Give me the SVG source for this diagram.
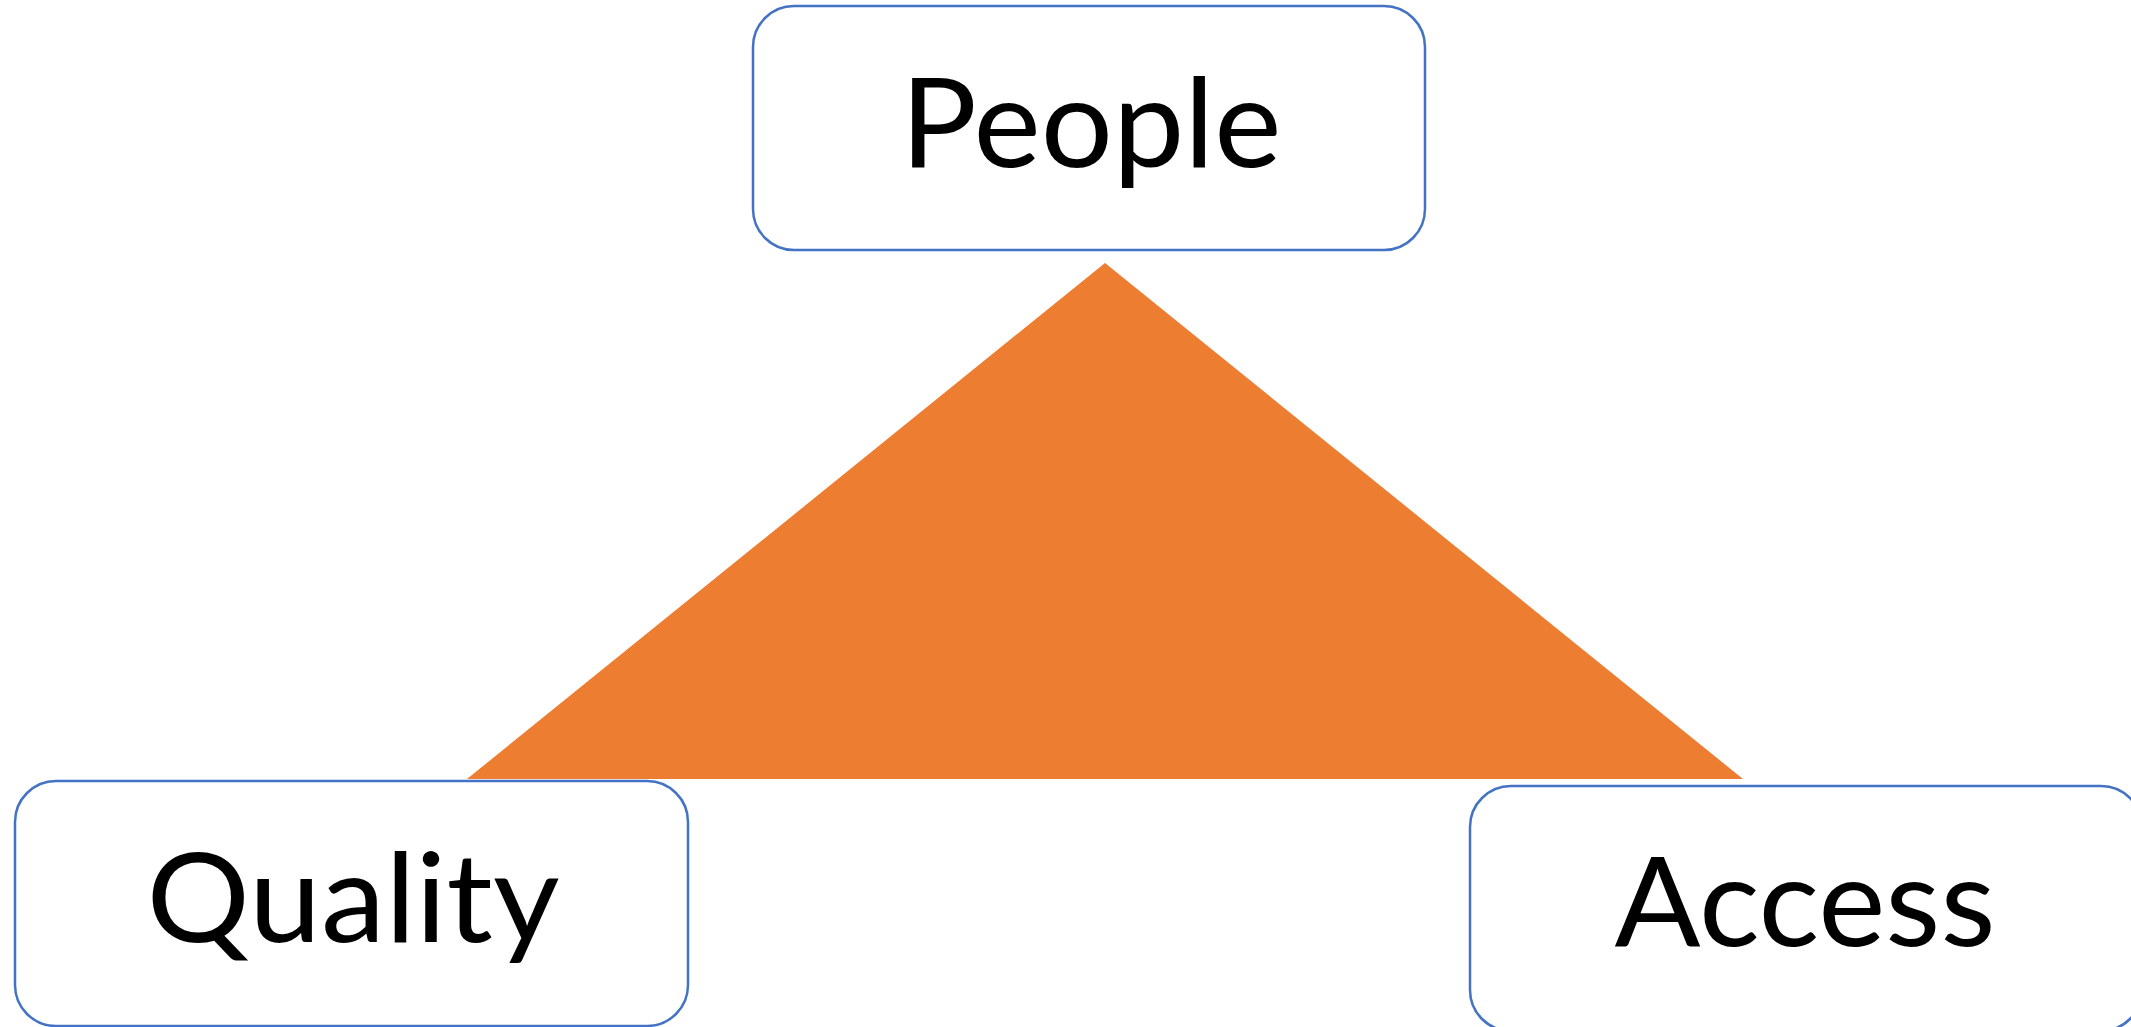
<svg xmlns="http://www.w3.org/2000/svg" width="2131" height="1027" viewBox="0 0 2131 1027">
  <style>
    .box { fill: #FFFFFF; stroke: #4472C4; stroke-width: 2.5; }
    .label { font-family: Lato, "Liberation Sans", Arial, sans-serif; font-size: 125px; fill: #000000; text-anchor: middle; }
    .tri { fill: #ED7D31; stroke: none; }
  </style>
  <rect width="2131" height="1027" fill="#FFFFFF"/>
  <g id="triangle">
    <polygon class="tri" points="1105,263 467,779 1743,779"/>
  </g>
  <g id="connectors"></g>
  <g id="node-people">
    <rect class="box" x="753" y="6" width="672" height="244" rx="41" ry="41"/>
    <text class="label" x="1091" y="167" textLength="381" lengthAdjust="spacingAndGlyphs">People</text>
  </g>
  <g id="node-quality">
    <rect class="box" x="15" y="781" width="673" height="245" rx="41" ry="41"/>
    <text class="label" x="353" y="942" textLength="413" lengthAdjust="spacingAndGlyphs">Quality</text>
  </g>
  <g id="node-access">
    <rect class="box" x="1470" y="786" width="672" height="245" rx="41" ry="41"/>
    <text class="label" x="1805" y="946" textLength="381" lengthAdjust="spacingAndGlyphs">Access</text>
  </g>
</svg>
